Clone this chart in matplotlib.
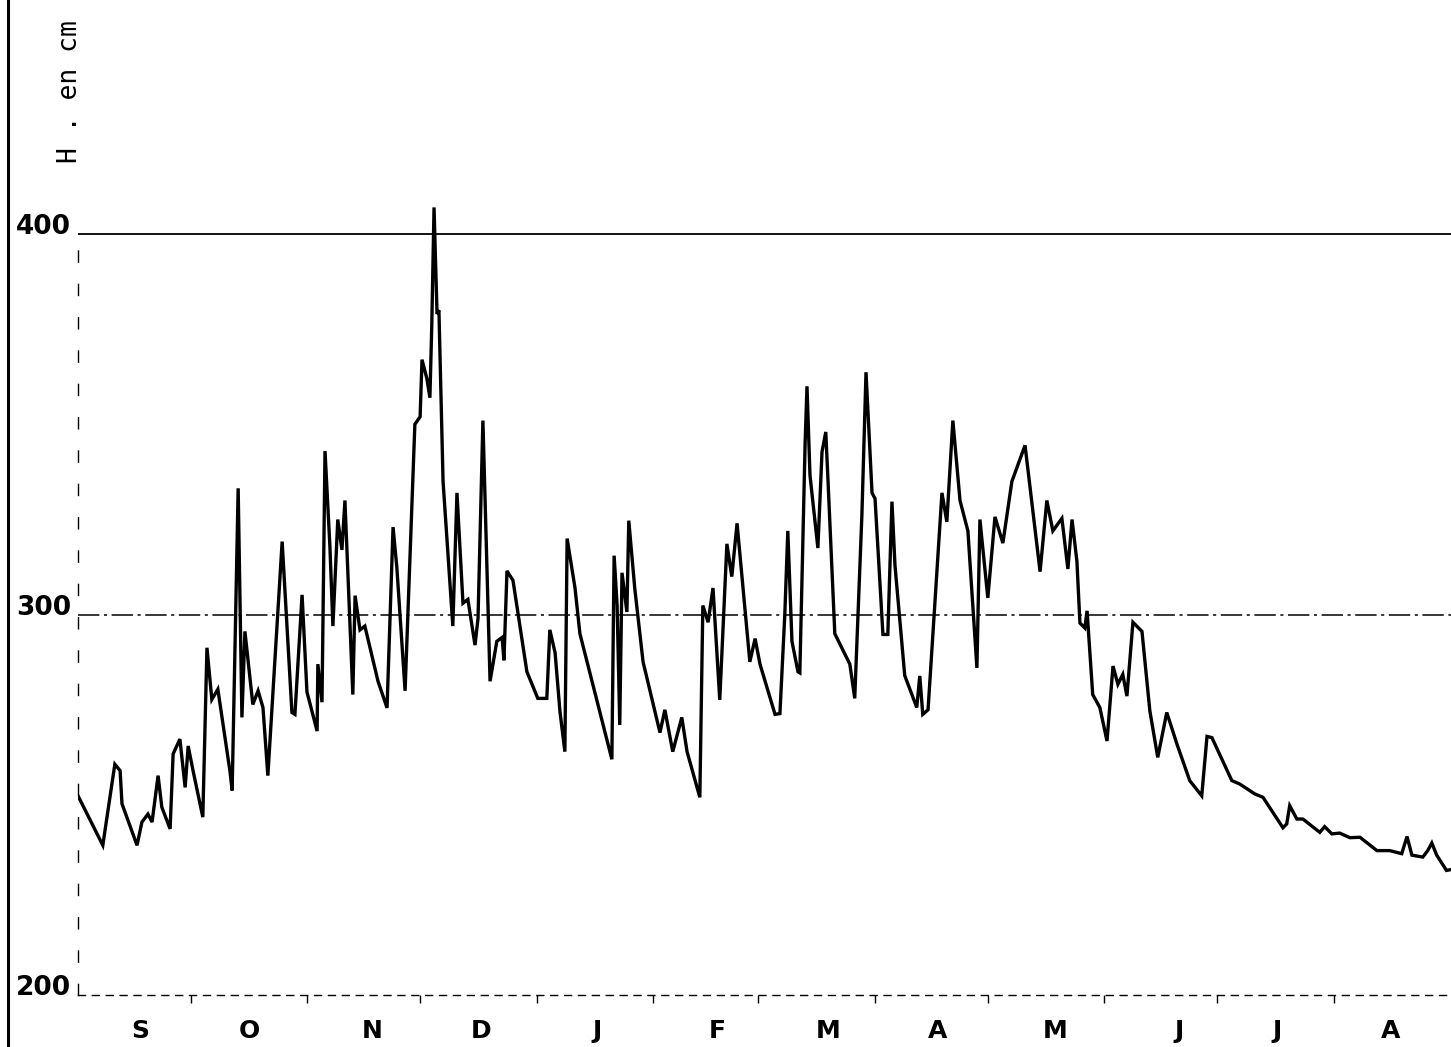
import matplotlib
matplotlib.use("Agg")
import matplotlib.pyplot as plt
from matplotlib.lines import Line2D

# days counted from 1 September, water height in cm
days = [0, 6.6, 9.8, 11.2, 11.7, 15.7, 17.0, 18.6, 19.7, 21.3, 22.3, 24.5, 25.3, 27.1, 28.5,
        29.3, 30.6, 33.2, 34.3, 35.6, 37.2, 40.4, 41.0, 42.6, 43.6, 44.4, 46.5, 47.9, 49.2,
        50.5, 54.3, 56.9, 57.7, 59.6, 60.9, 63.6, 63.8, 64.9, 65.7, 67.0, 67.8, 69.1, 70.2,
        71.0, 73.1, 73.7, 75.0, 76.3, 79.8, 82.2, 83.8, 84.8, 87.0, 89.6, 91.0, 91.5, 92.8,
        93.6, 94.1, 94.7, 95.5, 96.0, 97.1, 99.7, 100.8, 102.4, 103.7, 105.6, 106.4, 107.7,
        109.6, 111.4, 112.8, 113.3, 114.1, 115.7, 119.4, 122.3, 124.7, 125.5, 126.9, 128.2,
        129.5, 130.1, 132.2, 133.5, 142.0, 142.6, 143.4, 144.1, 144.7, 146.0, 146.5, 148.1,
        150.3, 154.8, 156.1, 158.2, 160.6, 162.0, 165.4, 166.2, 167.6, 168.9, 170.7, 172.6,
        173.9, 175.3, 178.7, 180.1, 181.4, 185.4, 186.7, 188.0, 188.8, 189.9, 191.5, 192.0,
        193.4, 193.9, 194.7, 196.8, 197.9, 198.9, 199.5, 201.3, 205.3, 206.6, 208.5, 209.6,
        211.2, 212.0, 214.1, 215.4, 216.5, 217.3, 219.9, 223.1, 223.9, 224.7, 226.1, 229.8,
        231.1, 232.7, 234.6, 236.7, 239.1, 239.9, 242.0, 243.9, 246.0, 248.4, 251.9, 255.9,
        257.7, 259.3, 261.7, 263.3, 264.4, 265.7, 266.5, 267.8, 268.4, 269.9, 271.8, 273.7,
        275.3, 276.6, 277.9, 279.0, 280.6, 283.0, 285.1, 287.2, 289.6, 292.3, 295.7, 298.9,
        300.3, 301.6, 306.9, 309.0, 313.0, 315.2, 320.5, 321.5, 322.3, 324.2, 325.8, 330.3,
        331.6, 333.5, 335.6, 338.3, 341.0, 345.5, 348.9, 352.1, 353.5, 354.8, 357.7, 359.0,
        360.1, 361.4, 364.0, 365.1]
height = [252.4, 239.4, 260.7, 259, 250.3, 239.4, 245.5, 247.6, 245.5, 257.7, 249.4, 243.7,
          263.4, 267.3, 254.6, 265.5, 259, 246.8, 291.3, 277.7, 280.4, 259, 253.8, 333.2, 273,
          295.6, 276.4, 280, 275.6, 257.7, 319.2, 274.3, 273.8, 305.2, 279.7, 269.4, 287, 277,
          343, 318, 297, 325, 317, 330, 279, 305, 296, 297, 282.5, 275.5, 323, 312.5, 280, 350,
          352, 367, 362, 357, 376, 407, 379, 380, 335, 297, 332, 303, 304, 292, 299, 351,
          282.5, 293, 294, 288, 311.5, 309, 285, 278, 278, 296, 290, 274.5, 264, 320, 307, 295,
          262, 315.5, 302.4, 271, 311, 300.7, 324.7, 306.8, 287.6, 269, 275, 264, 273, 264,
          252, 302.4, 298, 307, 277.6, 318.6, 310, 324, 287.6, 293.7, 287, 273.8, 274, 300,
          322, 293, 285, 284.7, 345, 360, 336.6, 317.5, 342.8, 348, 335, 295, 287, 278, 326,
          363.7, 332, 330.5, 294.8, 294.8, 329.7, 313, 284, 275.6, 283.9, 273.8, 275, 332,
          324.4, 351, 330, 322, 286, 325, 304.4, 325.7, 318.8, 335, 344.5, 311.3, 330, 322,
          325.3, 312, 325, 314, 297.8, 296.5, 301, 279, 275.6, 266.8, 286.5, 281.7, 284.3,
          278.6, 298, 295.6, 274.7, 262.5, 274.3, 266, 256.4, 252.4, 268, 267.7, 256.4, 255.5,
          252.9, 252, 244, 245, 249.8, 246.3, 246.3, 242.8, 244.3, 242.4, 242.6, 241.4, 241.5,
          238, 238, 237.2, 241.7, 236.8, 236.3, 238, 240, 236.8, 232.8, 233]

month_bounds = [30, 61, 91, 122, 153, 181, 212, 242, 273, 303, 334]
month_pos = [16.5, 45.7, 78.2, 107.2, 138, 170, 199.5, 228.7, 259.8, 293, 319, 349]
month_labels = ["S", "O", "N", "D", "J", "F", "M", "A", "M", "J", "J", "A"]
y_levels = [200, 300, 400]

fig = plt.figure(figsize=(14.51, 10.47), dpi=100)
fig.patch.set_facecolor("white")
ax = fig.add_axes([78 / 1451, 0, 1 - 78 / 1451, 1])
ax.set_xlim(0, 365.2)
ax.set_ylim(186.4, 461.5)

# reference levels
ax.axhline(400, color="black", lw=1.3, zorder=1)
ax.axhline(300, color="black", lw=1.1, ls=(0, (14, 3, 2, 3)), zorder=1)

ax.plot(days, height, color="black", lw=2.4, solid_joinstyle="miter", zorder=3)

for s in ["top", "right"]:
    ax.spines[s].set_visible(False)
ax.spines["bottom"].set_position(("data", 200))
ax.spines["bottom"].set_linestyle((0, (5, 5)))
ax.spines["bottom"].set_linewidth(1.0)
ax.spines["left"].set_position(("data", 0))
ax.spines["left"].set_bounds(200, 400)
ax.spines["left"].set_linestyle((0, (8, 16)))
ax.spines["left"].set_linewidth(1.0)

ax.set_yticks(y_levels)
ax.set_yticklabels([str(v) for v in y_levels], fontsize=19, fontweight="bold")
ax.tick_params(axis="y", length=0, pad=5)
for lab in ax.get_yticklabels():
    lab.set_va("baseline")

ax.set_xticks(month_bounds)
ax.set_xticklabels([])
ax.tick_params(axis="x", which="major", direction="out", length=6, width=1)
ax.set_xticks(month_pos, minor=True)
ax.set_xticklabels(month_labels, minor=True, fontsize=18, fontweight="bold")
ax.tick_params(axis="x", which="minor", length=0, pad=17)

fig.text(70 / 1451, 1 - 92 / 1047, "H . en cm", rotation=90, ha="center", va="center",
         fontsize=19, family="DejaVu Sans Mono")

# page border on the left
fig.add_artist(Line2D([8 / 1451, 8 / 1451], [0, 1], color="black", lw=2.2))

fig.savefig("out.png", dpi=100, facecolor="white")
